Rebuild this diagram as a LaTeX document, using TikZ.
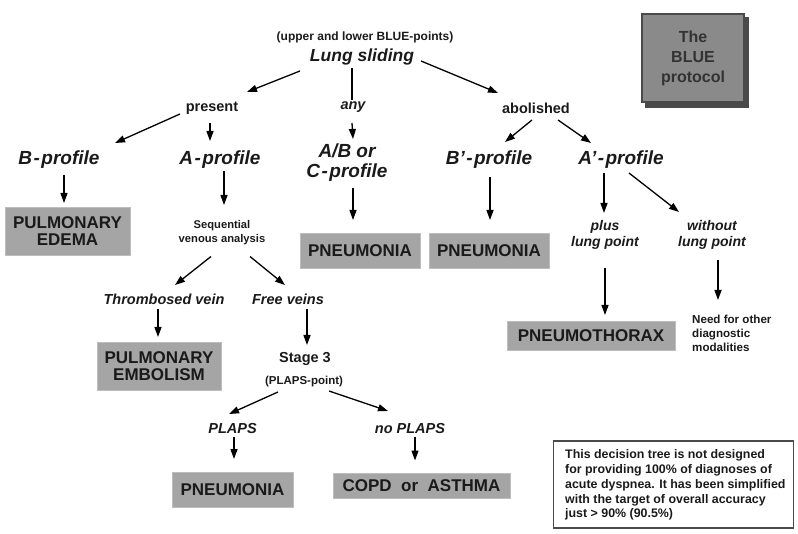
\documentclass[tikz,border=0pt]{standalone}
\usepackage{fontspec}
\setmainfont{Liberation Sans}
\usetikzlibrary{arrows.meta,calc}
\definecolor{boxgray}{HTML}{A5A5A5}
\definecolor{boxedge}{HTML}{BDBDBD}
\definecolor{bluefill}{HTML}{8A8A8A}
\definecolor{blueedge}{HTML}{4A4A4A}
\definecolor{txt}{HTML}{1A1A1A}
\newcommand{\fs}[1]{\fontsize{#1}{#1}\selectfont}
\tikzset{
  lbl/.style={inner sep=0pt, text=txt, font=\bfseries\fs{14.5}},
  small/.style={inner sep=0pt, text=txt, font=\bfseries\fs{11.5}, align=center},
  prof/.style={inner sep=0pt, text=txt, font=\bfseries\itshape\fs{19}, align=center},
  itl/.style={inner sep=0pt, text=txt, font=\bfseries\itshape\fs{14.5}, align=center},
  diag/.style={draw=boxedge, fill=boxgray, line width=0.6pt, text=txt, inner sep=0pt,
     font=\bfseries\fs{17}, align=center},
  arr/.style={draw=black, line width=1.3pt, -{Triangle[length=10pt,width=7pt]}},
  ln/.style={draw=black, line width=1.3pt},
}
\begin{document}
\begin{tikzpicture}[x=1pt,y=-1pt]
\useasboundingbox (0,0) rectangle (798,534);
% title box
\fill[blueedge] (645,17) rectangle (749,108);
\node[draw=blueedge, line width=2.5pt, fill=bluefill, minimum width=102pt, minimum height=88pt,
  inner sep=0pt, text=black!80, font=\bfseries\fs{16}\linespread{1.25}\selectfont, align=center] (blue) at (693,58)
  {The\\BLUE\\protocol};

\node[small, font=\bfseries\fs{12}] (up) at (365,37) {(upper and lower BLUE-points)};
\node[prof, font=\bfseries\itshape\fs{17.5}] (lung) at (362,57) {Lung sliding};
\node[lbl] (present) at (212,108) {present};
\node[itl] (any) at (353,107) {any};
\node[lbl] (abol) at (536,108) {abolished};

\node[prof] (bprof) at (59,160) {B\kern1.5pt-\kern1.5pt profile};
\node[prof] (aprof) at (220,160) {A\kern1.5pt-\kern1.5pt profile};
\node[prof, font=\bfseries\itshape\fs{19}\linespread{1.05}\selectfont] (abc) at (347,163) {A/B or\\C\kern1.5pt-\kern1.5pt profile};
\node[prof] (bpprof) at (489,160) {B\symbol{39}\kern1.5pt-\kern1.5pt profile};
\node[prof] (approf) at (621,160) {A\symbol{39}\kern1.5pt-\kern1.5pt profile};

\node[diag, minimum width=125pt, minimum height=48pt] (pe) at (67.5,231) {PULMONARY\\EDEMA};
\node[small, font=\bfseries\fs{11.2}\linespread{1.2}\selectfont] (seq) at (222,232.5) {Sequential\\venous analysis};
\node[diag, minimum width=120pt, minimum height=35pt] (pn1) at (360,250.5) {PNEUMONIA};
\node[diag, minimum width=120pt, minimum height=35pt] (pn2) at (489,250.5) {PNEUMONIA};
\node[itl, font=\bfseries\itshape\fs{14}\linespread{1.1}\selectfont] (plus) at (605,235) {plus\\lung point};
\node[itl, font=\bfseries\itshape\fs{14}\linespread{1.1}\selectfont] (without) at (712,235) {without\\lung point};
\node[diag, minimum width=168pt, minimum height=29pt] (ptx) at (591,335.5) {PNEUMOTHORAX};
\node[small, align=left, anchor=west, font=\bfseries\fs{11.6}\linespread{1.2}\selectfont] (need) at (692,333.5) {Need for other\\diagnostic\\modalities};

\node[itl] (thromb) at (164,299) {Thrombosed vein};
\node[itl] (free) at (288,299) {Free veins};
\node[diag, minimum width=124pt, minimum height=48pt] (pem) at (159,366) {PULMONARY\\EMBOLISM};
\node[lbl] (stage) at (305,359) {Stage 3};
\node[small] (plapspt) at (304,382) {(PLAPS-point)};
\node[itl] (plaps) at (232.5,429) {PLAPS};
\node[itl] (noplaps) at (410,429) {no PLAPS};
\node[diag, minimum width=121pt, minimum height=35pt] (pn3) at (232.5,489.5) {PNEUMONIA};
\node[diag, minimum width=177pt, minimum height=25pt] (copd) at (421.5,485.5) {COPD\ \ or\ \ ASTHMA};

\node[draw=blueedge, line width=1.2pt, minimum width=240pt, minimum height=87pt, inner sep=0pt] (note) at (673.5,484.5) {};
\node[small, align=left, anchor=west, font=\bfseries\fs{12.4}\linespread{1.2}\selectfont] (notetext) at (565,485)
 {This decision tree is not designed\\for providing 100\% of diagnoses of\\acute dyspnea. It has been simplified\\with the target of overall accuracy\\just > 90\% (90.5\%)};

% connectors
\draw[arr] ($(lung)+(-62,14)$) -- ($(present)+(35,-16)$);
\draw[ln] ($(lung)+(-10,11)$) -- ($(any)+(-1,-7)$);
\draw[arr] ($(any)+(-1,16)$) -- ($(abc)+(6,-24)$);
\draw[arr] ($(lung)+(59,4)$) -- ($(abol)+(-38,-15)$);
\draw[arr] ($(present)+(-32,6)$) -- ($(bprof)+(56,-17)$);
\draw[arr] ($(present)+(-2,15)$) -- ($(aprof)+(-10,-19)$);
\draw[arr] ($(abol)+(-4,12)$) -- ($(bpprof)+(16,-18)$);
\draw[arr] ($(abol)+(22,12)$) -- ($(approf)+(-30,-17)$);
\draw[arr] ($(bprof)+(5,15)$) -- ($(pe)+(-3.5,-28)$);
\draw[arr] ($(aprof)+(4,11)$) -- ($(seq)+(2,-27.5)$);
\draw[arr] ($(abc)+(6,25)$) -- ($(pn1)+(-7,-30.5)$);
\draw[arr] ($(bpprof)+(1,17)$) -- ($(pn2)+(1,-30.5)$);
\draw[arr] ($(approf)+(-17,13)$) -- ($(plus)+(-1,-22)$);
\draw[arr] ($(approf)+(8,13)$) -- ($(without)+(-33,-23)$);
\draw[arr] ($(plus)+(0,33)$) -- ($(ptx)+(14,-20.5)$);
\draw[arr] ($(without)+(6,25)$) -- ($(need.west)+(26,-33.5)$);
\draw[arr] ($(seq)+(-11,24)$) -- ($(thromb)+(11,-14)$);
\draw[arr] ($(seq)+(28,24)$) -- ($(free)+(-3,-14)$);
\draw[arr] ($(thromb)+(-6,10)$) -- ($(pem)+(-1,-29)$);
\draw[arr] ($(free)+(19,10)$) -- ($(stage)+(2,-14)$);
\draw[arr] ($(plapspt)+(-26,10)$) -- ($(plaps)+(-3.5,-15)$);
\draw[arr] ($(plapspt)+(25,9)$) -- ($(noplaps)+(-22,-18)$);
\draw[arr] ($(plaps)+(1.5,8)$) -- ($(pn3)+(1.5,-30.5)$);
\draw[arr] ($(noplaps)+(5,8)$) -- ($(copd)+(-6.5,-25)$);
\end{tikzpicture}
\end{document}
